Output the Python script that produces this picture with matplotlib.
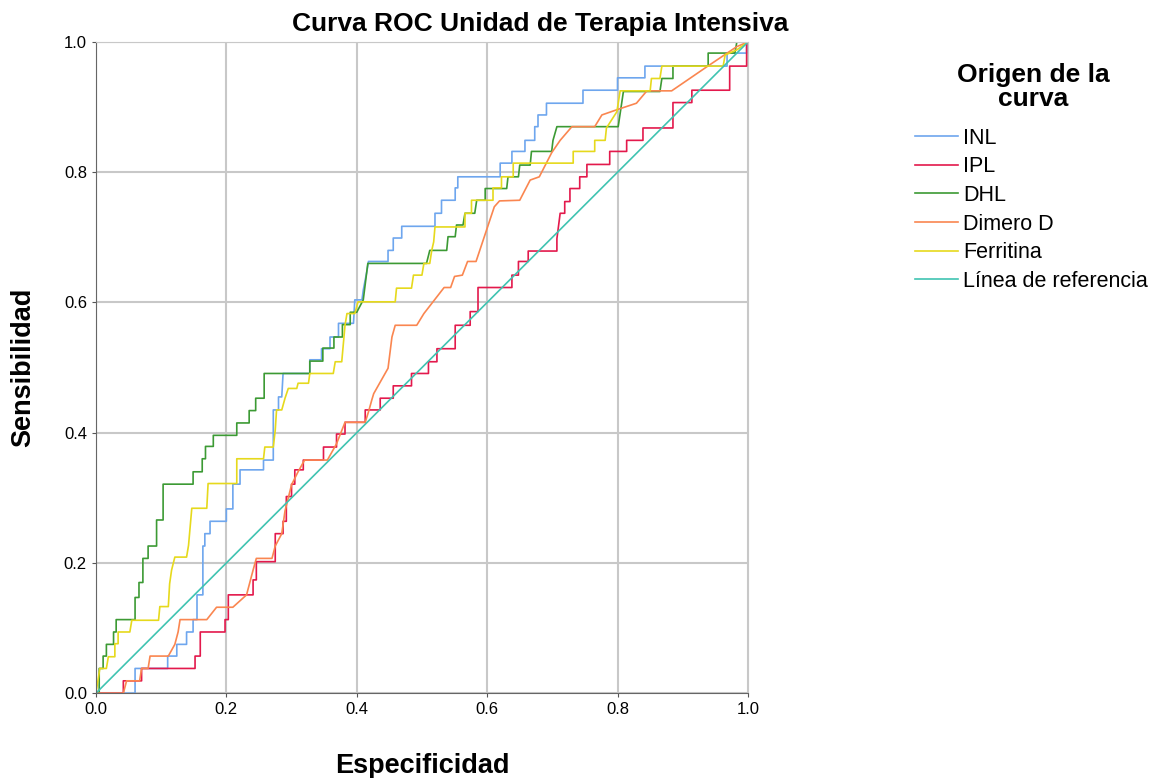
import matplotlib
matplotlib.use("Agg")
import matplotlib.pyplot as plt

plt.rcParams['font.family'] = ['Liberation Sans', 'DejaVu Sans']

# INL
inl_x = [0, 0.06, 0.06, 0.11, 0.11, 0.124, 0.124, 0.139, 0.139, 0.149, 0.149, 0.155, 0.155, 0.164, 0.164,
         0.167, 0.167, 0.175, 0.175, 0.2, 0.2, 0.21, 0.21, 0.221, 0.221, 0.257, 0.257, 0.272, 0.272, 0.28,
         0.28, 0.285, 0.287, 0.328, 0.328, 0.346, 0.346, 0.359, 0.359, 0.372, 0.372, 0.395, 0.397, 0.408,
         0.41, 0.415, 0.418, 0.448, 0.448, 0.456, 0.456, 0.469, 0.469, 0.52, 0.52, 0.53, 0.53, 0.551, 0.551,
         0.555, 0.555, 0.62, 0.62, 0.638, 0.638, 0.658, 0.658, 0.673, 0.673, 0.678, 0.678, 0.691, 0.691,
         0.747, 0.747, 0.8, 0.8, 0.842, 0.842, 0.968, 0.968, 0.998, 0.998, 1.0]
inl_y = [0, 0, 0.038, 0.038, 0.057, 0.057, 0.075, 0.075, 0.094, 0.094, 0.113, 0.113, 0.151, 0.151, 0.226,
         0.226, 0.245, 0.245, 0.264, 0.264, 0.283, 0.283, 0.321, 0.321, 0.343, 0.343, 0.358, 0.358, 0.435, 0.435,
         0.455, 0.455, 0.491, 0.491, 0.512, 0.512, 0.529, 0.529, 0.547, 0.547, 0.568, 0.568, 0.604, 0.604,
         0.619, 0.645, 0.663, 0.663, 0.68, 0.68, 0.699, 0.699, 0.717, 0.717, 0.737, 0.737, 0.757, 0.757, 0.776,
         0.776, 0.793, 0.793, 0.814, 0.814, 0.832, 0.832, 0.849, 0.849, 0.87, 0.87, 0.888, 0.888, 0.906,
         0.906, 0.926, 0.926, 0.945, 0.945, 0.963, 0.963, 0.983, 0.983, 1.0, 1.0]

# IPL
ipl_x = [0, 0.042, 0.042, 0.07, 0.07, 0.152, 0.152, 0.16, 0.16, 0.198, 0.198, 0.203, 0.203, 0.241, 0.241,
         0.246, 0.246, 0.275, 0.275, 0.287, 0.287, 0.292, 0.292, 0.3, 0.3, 0.305, 0.305, 0.318, 0.318, 0.349,
         0.349, 0.369, 0.369, 0.382, 0.382, 0.413, 0.413, 0.436, 0.436, 0.456, 0.456, 0.484, 0.484, 0.51,
         0.51, 0.523, 0.523, 0.551, 0.551, 0.574, 0.574, 0.586, 0.586, 0.638, 0.638, 0.648, 0.648, 0.663,
         0.663, 0.707, 0.707, 0.712, 0.719, 0.719, 0.727, 0.727, 0.742, 0.742, 0.753, 0.753, 0.788, 0.788,
         0.814, 0.814, 0.839, 0.839, 0.885, 0.885, 0.914, 0.914, 0.972, 0.972, 0.998, 0.998, 1.0]
ipl_y = [0, 0, 0.019, 0.019, 0.038, 0.038, 0.057, 0.057, 0.094, 0.094, 0.113, 0.113, 0.151, 0.151, 0.174,
         0.174, 0.202, 0.202, 0.245, 0.245, 0.264, 0.264, 0.302, 0.302, 0.321, 0.321, 0.343, 0.343, 0.358, 0.358,
         0.378, 0.378, 0.398, 0.398, 0.416, 0.416, 0.435, 0.435, 0.453, 0.453, 0.472, 0.472, 0.491, 0.491,
         0.509, 0.509, 0.529, 0.529, 0.565, 0.565, 0.586, 0.586, 0.623, 0.623, 0.642, 0.642, 0.663, 0.663,
         0.679, 0.679, 0.698, 0.737, 0.737, 0.755, 0.755, 0.775, 0.775, 0.793, 0.793, 0.812, 0.812, 0.832,
         0.832, 0.849, 0.849, 0.868, 0.868, 0.907, 0.907, 0.926, 0.926, 0.963, 0.963, 1.0, 1.0]

# DHL
dhl_x = [0, 0.005, 0.005, 0.011, 0.011, 0.016, 0.016, 0.027, 0.027, 0.031, 0.031, 0.06, 0.06, 0.066, 0.066,
         0.072, 0.072, 0.08, 0.08, 0.093, 0.093, 0.103, 0.103, 0.149, 0.149, 0.163, 0.163, 0.168, 0.168, 0.18,
         0.18, 0.216, 0.216, 0.235, 0.235, 0.245, 0.245, 0.258, 0.258, 0.328, 0.328, 0.348, 0.348, 0.365,
         0.365, 0.378, 0.378, 0.39, 0.39, 0.4, 0.41, 0.417, 0.507, 0.512, 0.538, 0.54, 0.551, 0.553, 0.563,
         0.566, 0.581, 0.584, 0.597, 0.597, 0.63, 0.632, 0.648, 0.65, 0.666, 0.668, 0.699, 0.701, 0.707,
         0.801, 0.809, 0.865, 0.868, 0.885, 0.885, 0.939, 0.939, 0.98, 0.983, 1.0]
dhl_y = [0, 0, 0.038, 0.038, 0.057, 0.057, 0.075, 0.075, 0.094, 0.094, 0.113, 0.113, 0.147, 0.147, 0.17,
         0.17, 0.207, 0.207, 0.226, 0.226, 0.266, 0.266, 0.321, 0.321, 0.34, 0.34, 0.36, 0.36, 0.379, 0.379,
         0.396, 0.396, 0.415, 0.415, 0.434, 0.434, 0.453, 0.453, 0.491, 0.491, 0.51, 0.51, 0.53, 0.53,
         0.547, 0.547, 0.566, 0.566, 0.585, 0.585, 0.604, 0.66, 0.66, 0.68, 0.68, 0.701, 0.701, 0.719, 0.719,
         0.737, 0.737, 0.757, 0.757, 0.775, 0.775, 0.793, 0.793, 0.811, 0.811, 0.832, 0.832, 0.849, 0.87,
         0.87, 0.924, 0.924, 0.944, 0.944, 0.963, 0.963, 0.983, 0.983, 1.0, 1.0]

# Dimero D
dim_x = [0, 0.042, 0.047, 0.067, 0.07, 0.08, 0.083, 0.111, 0.121, 0.126, 0.129, 0.17, 0.185, 0.21, 0.231,
         0.236, 0.241, 0.246, 0.27, 0.275, 0.285, 0.29, 0.3, 0.31, 0.32, 0.355, 0.369, 0.382, 0.413, 0.418,
         0.423, 0.426, 0.448, 0.454, 0.459, 0.492, 0.503, 0.534, 0.544, 0.55, 0.562, 0.57, 0.583, 0.611,
         0.619, 0.65, 0.666, 0.68, 0.699, 0.712, 0.73, 0.765, 0.776, 0.799, 0.829, 0.845, 0.883, 0.937,
         0.983, 1.0]
dim_y = [0, 0, 0.019, 0.019, 0.038, 0.038, 0.057, 0.057, 0.075, 0.094, 0.113, 0.113, 0.132, 0.132, 0.151,
         0.17, 0.189, 0.207, 0.207, 0.226, 0.245, 0.28, 0.32, 0.34, 0.358, 0.358, 0.383, 0.416, 0.416, 0.432,
         0.45, 0.46, 0.499, 0.547, 0.565, 0.565, 0.583, 0.623, 0.623, 0.64, 0.642, 0.663, 0.663, 0.747,
         0.756, 0.757, 0.788, 0.793, 0.83, 0.849, 0.87, 0.87, 0.888, 0.896, 0.906, 0.925, 0.925, 0.962,
         0.993, 1.0]

# Ferritina
fer_x = [0, 0.006, 0.016, 0.019, 0.029, 0.029, 0.034, 0.034, 0.052, 0.055, 0.096, 0.098, 0.111, 0.113, 0.116,
         0.121, 0.139, 0.142, 0.147, 0.17, 0.172, 0.216, 0.216, 0.257, 0.259, 0.272, 0.275, 0.277, 0.285,
         0.29, 0.295, 0.308, 0.31, 0.326, 0.328, 0.364, 0.367, 0.377, 0.382, 0.385, 0.397, 0.402, 0.459,
         0.461, 0.484, 0.487, 0.5, 0.503, 0.512, 0.515, 0.518, 0.52, 0.566, 0.566, 0.576, 0.576, 0.609, 0.609,
         0.622, 0.622, 0.64, 0.64, 0.732, 0.732, 0.765, 0.765, 0.781, 0.783, 0.799, 0.804, 0.85, 0.852,
         0.865, 0.868, 0.962, 0.965, 0.983, 1.0]
fer_y = [0, 0.038, 0.038, 0.056, 0.056, 0.076, 0.076, 0.094, 0.094, 0.112, 0.112, 0.133, 0.133, 0.168, 0.189,
         0.209, 0.209, 0.227, 0.284, 0.284, 0.322, 0.322, 0.36, 0.36, 0.378, 0.378, 0.404, 0.435, 0.435,
         0.453, 0.468, 0.468, 0.476, 0.476, 0.491, 0.491, 0.509, 0.509, 0.565, 0.583, 0.583, 0.601, 0.601,
         0.622, 0.622, 0.642, 0.642, 0.66, 0.66, 0.68, 0.693, 0.716, 0.716, 0.737, 0.737, 0.757, 0.757, 0.776,
         0.776, 0.793, 0.793, 0.814, 0.814, 0.832, 0.832, 0.849, 0.849, 0.868, 0.893, 0.925, 0.925, 0.944,
         0.944, 0.963, 0.963, 0.98, 0.988, 1.0]

# Línea de referencia
ref_x = [0, 1]
ref_y = [0, 1]

series = [
    ('INL', inl_x, inl_y, '#6ea6ee'),
    ('IPL', ipl_x, ipl_y, '#e3194c'),
    ('DHL', dhl_x, dhl_y, '#3c9a34'),
    ('Dimero D', dim_x, dim_y, '#fa8650'),
    ('Ferritina', fer_x, fer_y, '#e6d91c'),
    ('Línea de referencia', ref_x, ref_y, '#3fc3b1'),
]

fig = plt.figure(figsize=(11.56, 7.78), dpi=100)
ax = fig.add_axes([0.083, 0.109, 0.564, 0.837])

for name, xs, ys, col in series:
    ax.plot(xs, ys, color=col, linewidth=1.2, label=name)

ax.set_xlim(0, 1)
ax.set_ylim(0, 1)
ticks = [0.0, 0.2, 0.4, 0.6, 0.8, 1.0]
ax.set_xticks(ticks)
ax.set_yticks(ticks)
ax.set_xticklabels(['0.0', '0.2', '0.4', '0.6', '0.8', '1.0'], fontsize=12)
ax.set_yticklabels(['0.0', '0.2', '0.4', '0.6', '0.8', '1.0'], fontsize=12)
ax.tick_params(length=3, color='#555555')
ax.grid(True, color='#c8c8c8', linewidth=1.5)
ax.set_axisbelow(True)
for s in ['top', 'right']:
    ax.spines[s].set_color('#c8c8c8')
for s in ['left', 'bottom']:
    ax.spines[s].set_color('#666666')

fig.text(0.467, 0.969, 'Curva ROC Unidad de Terapia Intensiva', ha='center', va='center',
         fontsize=19, fontweight='bold')
ax.set_xlabel('Especificidad', fontsize=19.5, fontweight='bold', labelpad=26)
ax.set_ylabel('Sensibilidad', fontsize=19.5, fontweight='bold', labelpad=20)

# legend title drawn separately so its spacing matches
fig.text(0.894, 0.888, 'Origen de la\ncurva', ha='center', va='center',
         fontsize=19, fontweight='bold', linespacing=1.0)
fig.legend(loc='upper left', bbox_to_anchor=(0.7914, 0.8356), frameon=False,
           fontsize=15.5, handlelength=2.0, handletextpad=0.25, labelspacing=0.35,
           borderpad=0, borderaxespad=0)

fig.savefig('out.png', dpi=100)
